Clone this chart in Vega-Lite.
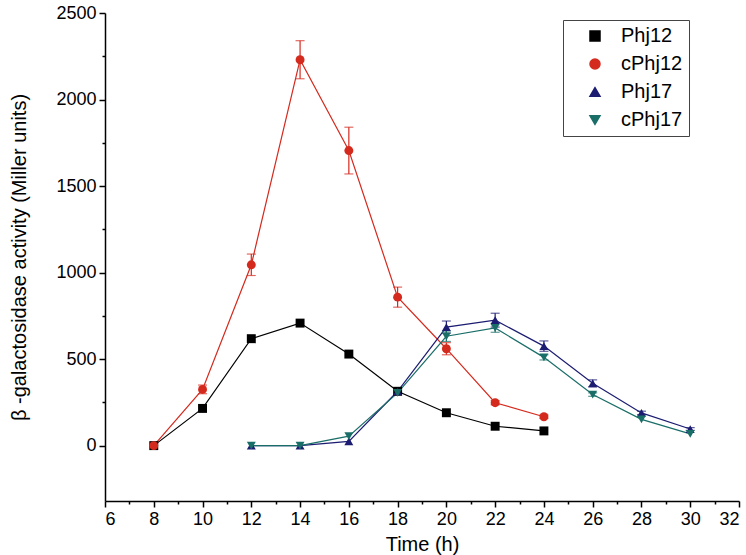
{
  "$schema": "https://vega.github.io/schema/vega-lite/v6.json",
  "width": 634,
  "height": 488,
  "autosize": {"type": "none"},
  "padding": {"left": 105, "top": 13, "right": 7, "bottom": 54},
  "background": "white",
  "config": {
    "font": "Liberation Sans",
    "view": {"stroke": null},
    "axis": {"domainColor": "black", "tickColor": "black", "labelColor": "black", "titleColor": "black", "domainWidth": 1.5, "tickWidth": 1.5, "grid": false, "labelFont": "Liberation Sans", "titleFont": "Liberation Sans", "titleFontWeight": "normal"},
    "legend": {"strokeColor": "#444", "padding": 6, "labelFontSize": 20, "labelFont": "Liberation Sans", "labelColor": "black", "symbolSize": 100, "symbolOpacity": 1, "rowPadding": 8, "symbolOffset": 16, "labelOffset": 16, "fillColor": "white"}
  },
  "data": {
    "values": [
      {"series": "Phj12", "t": 8, "v": 0, "err": 0},
      {"series": "Phj12", "t": 10, "v": 215, "err": 0},
      {"series": "Phj12", "t": 12, "v": 618, "err": 0},
      {"series": "Phj12", "t": 14, "v": 708, "err": 0},
      {"series": "Phj12", "t": 16, "v": 529, "err": 0},
      {"series": "Phj12", "t": 18, "v": 314, "err": 0},
      {"series": "Phj12", "t": 20, "v": 190, "err": 0},
      {"series": "Phj12", "t": 22, "v": 112, "err": 0},
      {"series": "Phj12", "t": 24, "v": 85, "err": 0},
      {"series": "cPhj12", "t": 8, "v": 0, "err": 0},
      {"series": "cPhj12", "t": 10, "v": 325, "err": 25},
      {"series": "cPhj12", "t": 12, "v": 1045, "err": 62},
      {"series": "cPhj12", "t": 14, "v": 2230, "err": 110},
      {"series": "cPhj12", "t": 16, "v": 1705, "err": 135},
      {"series": "cPhj12", "t": 18, "v": 858, "err": 58},
      {"series": "cPhj12", "t": 20, "v": 560, "err": 35},
      {"series": "cPhj12", "t": 22, "v": 248, "err": 12},
      {"series": "cPhj12", "t": 24, "v": 167, "err": 10},
      {"series": "Phj17", "t": 12, "v": 0, "err": 0},
      {"series": "Phj17", "t": 14, "v": 0, "err": 0},
      {"series": "Phj17", "t": 16, "v": 25, "err": 0},
      {"series": "Phj17", "t": 18, "v": 314, "err": 0},
      {"series": "Phj17", "t": 20, "v": 685, "err": 35},
      {"series": "Phj17", "t": 22, "v": 725, "err": 40},
      {"series": "Phj17", "t": 24, "v": 575, "err": 30},
      {"series": "Phj17", "t": 26, "v": 360, "err": 20},
      {"series": "Phj17", "t": 28, "v": 189, "err": 10},
      {"series": "Phj17", "t": 30, "v": 96, "err": 8},
      {"series": "cPhj17", "t": 12, "v": 0, "err": 0},
      {"series": "cPhj17", "t": 14, "v": 0, "err": 0},
      {"series": "cPhj17", "t": 16, "v": 55, "err": 0},
      {"series": "cPhj17", "t": 18, "v": 305, "err": 0},
      {"series": "cPhj17", "t": 20, "v": 632, "err": 30},
      {"series": "cPhj17", "t": 22, "v": 680, "err": 25},
      {"series": "cPhj17", "t": 24, "v": 510, "err": 15},
      {"series": "cPhj17", "t": 26, "v": 295, "err": 10},
      {"series": "cPhj17", "t": 28, "v": 152, "err": 0},
      {"series": "cPhj17", "t": 30, "v": 68, "err": 0}
    ]
  },
  "encoding": {
    "x": {"field": "t", "type": "quantitative", "scale": {"domain": [6, 32], "nice": false, "zero": false},
      "axis": {"title": "Time (h)", "values": [6, 7, 8, 9, 10, 11, 12, 13, 14, 15, 16, 17, 18, 19, 20, 21, 22, 23, 24, 25, 26, 27, 28, 29, 30, 31, 32],
        "labelExpr": "datum.value % 2 == 0 ? datum.label : ''",
        "tickSize": {"condition": {"test": "datum.value % 2 == 0", "value": 6}, "value": 3},
        "labelFontSize": 18, "labelPadding": 3, "titleFontSize": 20, "titlePadding": 6}},
    "y": {"field": "v", "type": "quantitative", "scale": {"domain": [-320, 2500], "nice": false, "zero": false},
      "axis": {"title": "β -galactosidase activity (Miller units)", "values": [0, 250, 500, 750, 1000, 1250, 1500, 1750, 2000, 2250, 2500],
        "format": "d",
        "labelExpr": "datum.value % 500 == 0 ? datum.label : ''",
        "tickSize": {"condition": {"test": "datum.value % 500 == 0", "value": 6}, "value": 3},
        "labelFontSize": 18, "labelPadding": 3, "titleFontSize": 20, "titlePadding": 26}},
    "color": {"field": "series", "type": "nominal",
      "scale": {"domain": ["Phj12", "cPhj12", "Phj17", "cPhj17"], "range": ["#000000", "#d42a1e", "#1c1c72", "#1a6e68"]},
      "legend": {"title": null, "orient": "none", "legendX": 458, "legendY": 7}}
  },
  "layer": [
    {
      "mark": {"type": "line", "strokeWidth": 1.2},
      "encoding": {"detail": {"field": "series"}}
    },
    {
      "transform": [{"filter": "datum.err > 0"}],
      "mark": {"type": "errorbar", "ticks": {"size": 9}, "thickness": 1.2},
      "encoding": {"yError": {"field": "err"}}
    },
    {
      "mark": {"type": "point", "filled": true, "opacity": 1, "size": 80},
      "encoding": {
        "shape": {"field": "series", "type": "nominal",
          "scale": {"domain": ["Phj12", "cPhj12", "Phj17", "cPhj17"], "range": ["square", "circle", "triangle-up", "triangle-down"]},
          "legend": {"title": null, "orient": "none", "legendX": 458, "legendY": 7}}
      }
    }
  ]
}
